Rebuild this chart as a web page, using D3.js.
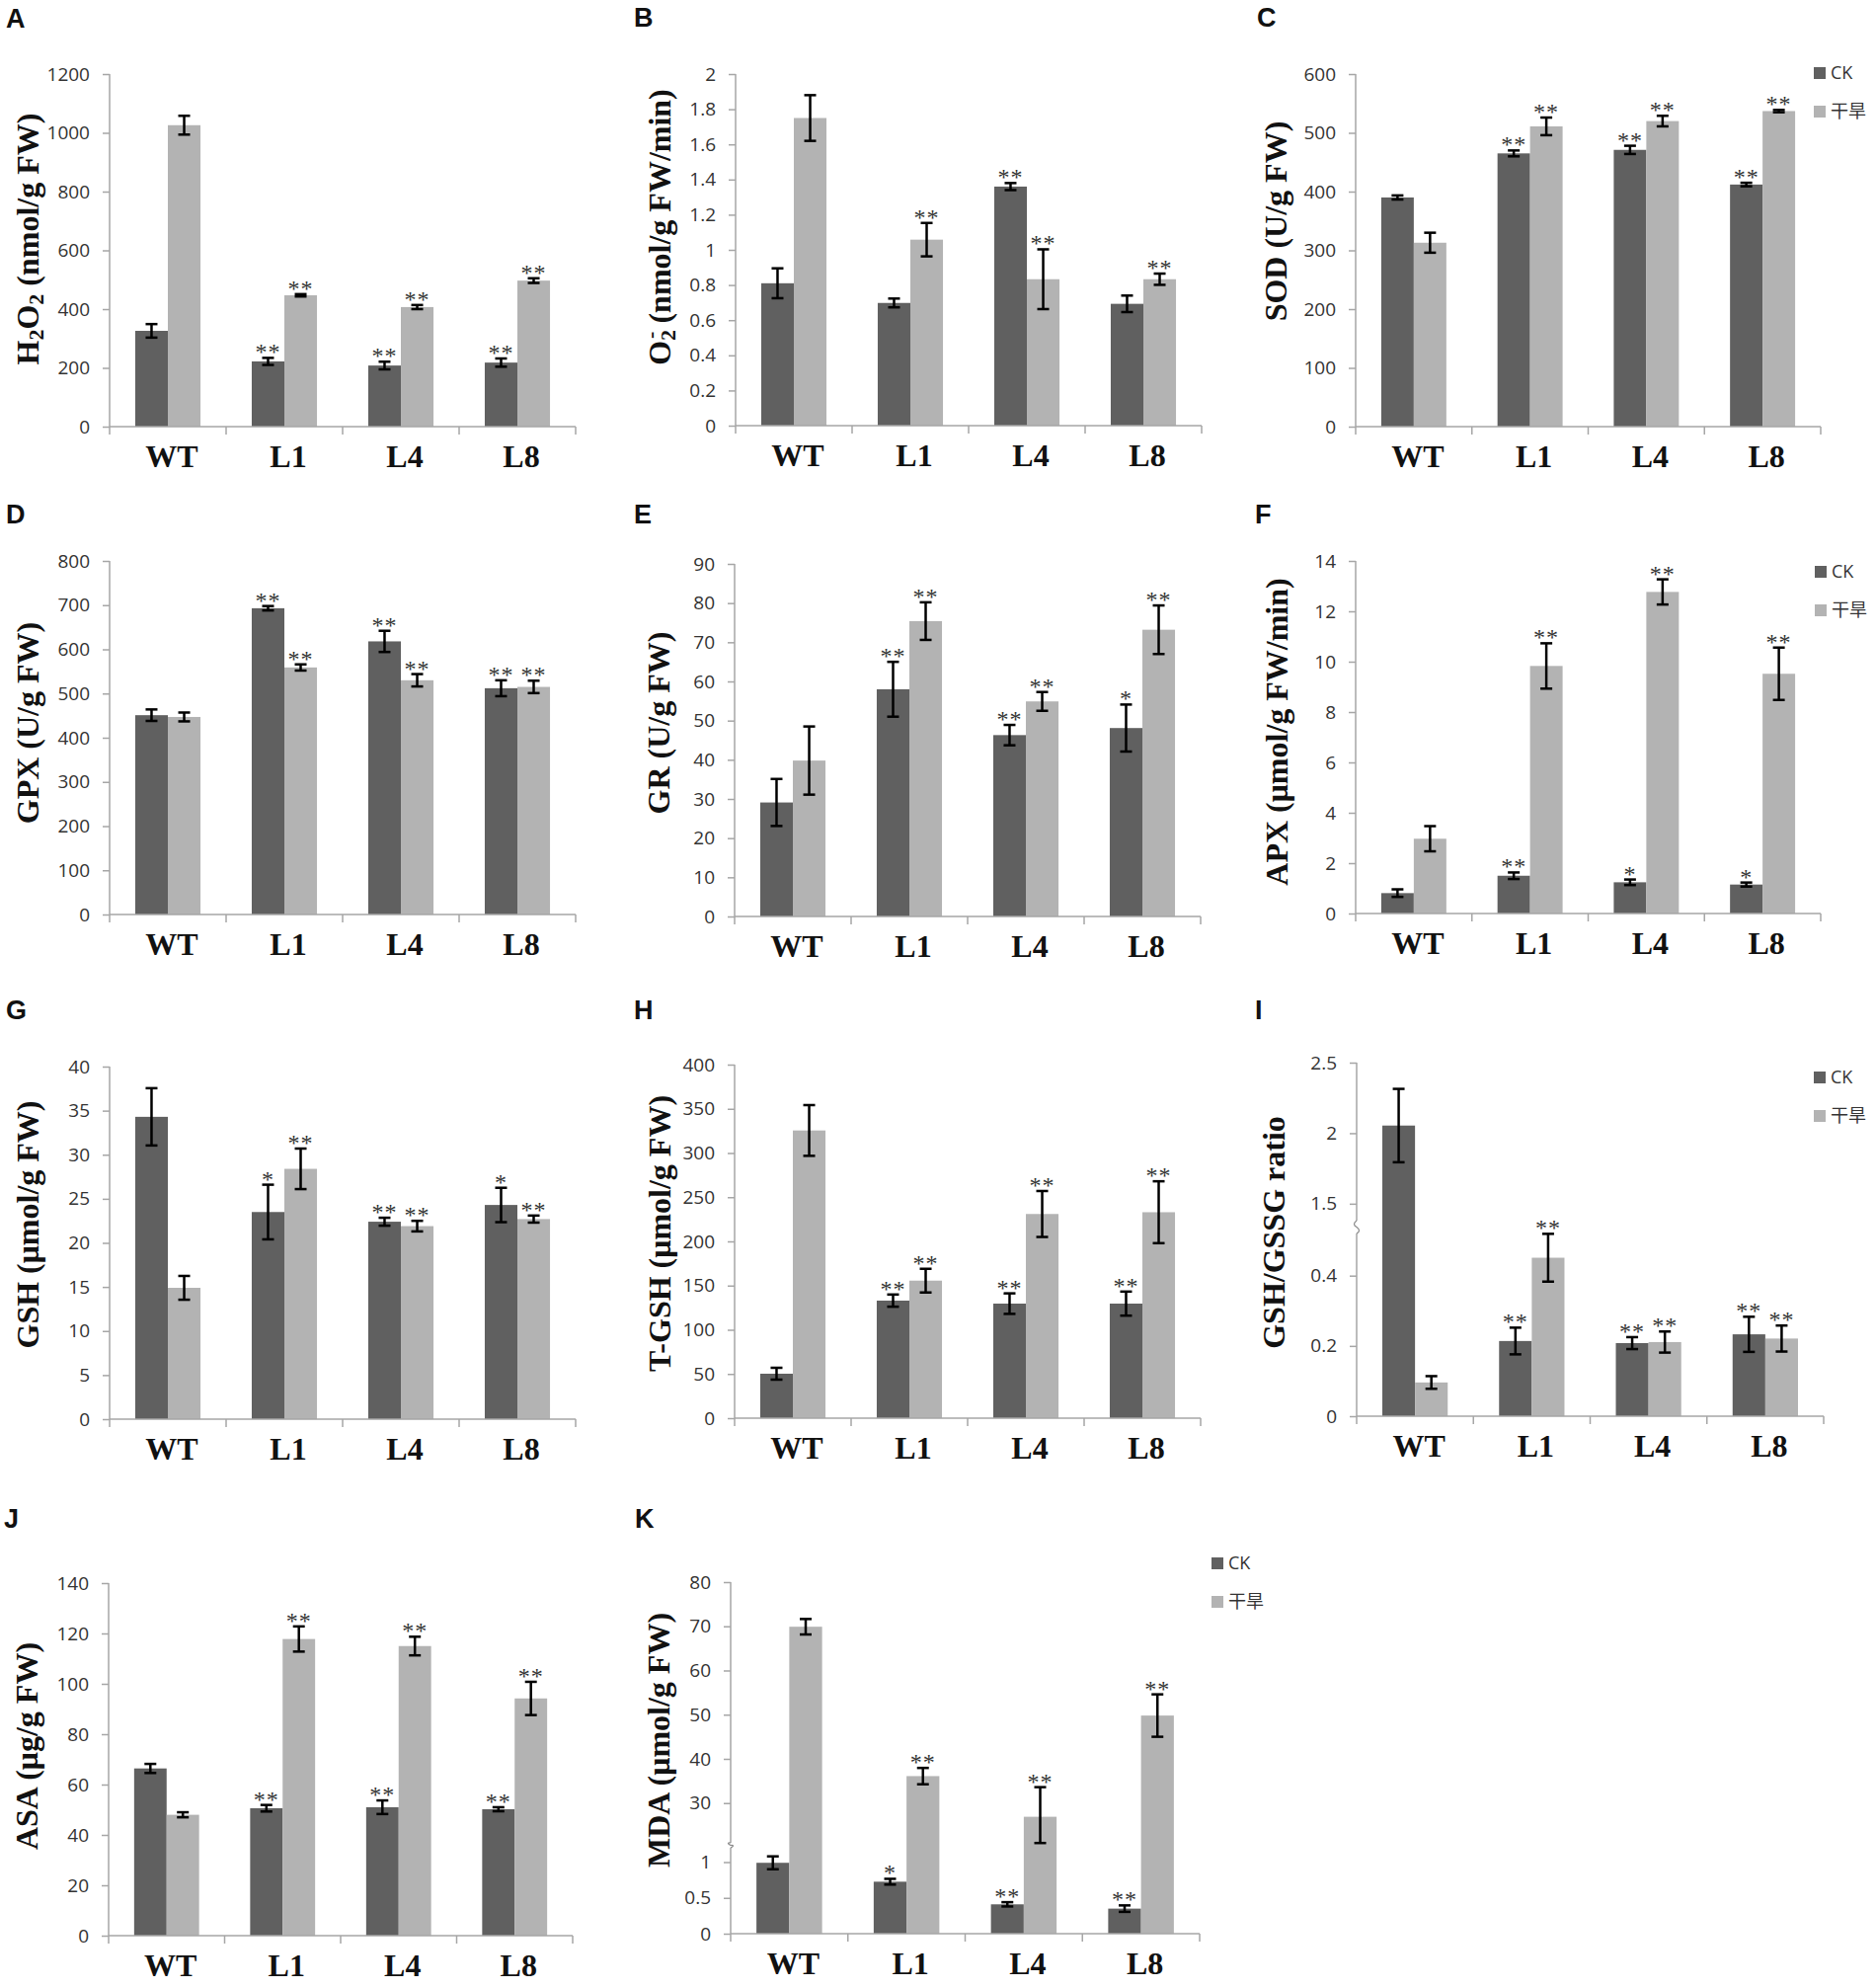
<!DOCTYPE html>
<html lang="en">
<head>
<meta charset="UTF-8">
<title>Antioxidant panels</title>
<script src="https://cdnjs.cloudflare.com/ajax/libs/d3/7.8.5/d3.min.js"></script>
<style>
  html, body { margin: 0; padding: 0; background: #fff; }
  .tick-label { font-family: "Open Sans", "Liberation Sans", sans-serif; font-size: 19px; fill: #333; }
  .cat-label { font-family: "Liberation Serif", "Times New Roman", serif; font-weight: bold; font-size: 32px; fill: #111; }
  .y-title { font-family: "Liberation Serif", "Times New Roman", serif; font-weight: bold; font-size: 32px; fill: #111; }
  .letter { font-family: "Liberation Sans", Arial, sans-serif; font-weight: bold; font-size: 27px; fill: #111; }
  .star { font-family: "Liberation Serif", "Times New Roman", serif; font-size: 24px; fill: #333; }
  .legend-text { font-family: "Open Sans", "Noto Sans CJK SC", sans-serif; font-size: 18px; fill: #333; }
</style>
</head>
<body>
<div id="chart"></div>
<script>
const categories = ["WT", "L1", "L4", "L8"];
const seriesNames = ["CK", "干旱"];

// A  H2O2
const h2o2CK = [326, 222, 208, 218];
const h2o2CKErr = [23, 12, 13, 14];
const h2o2Dr = [1026, 447, 407, 497];
const h2o2DrErr = [32, 4, 7, 8];
const h2o2SigCK = ["", "**", "**", "**"];
const h2o2SigDr = ["", "**", "**", "**"];
const h2o2Ticks = [0, 200, 400, 600, 800, 1000, 1200];

// B  O2-
const o2CK = [0.81, 0.698, 1.36, 0.693];
const o2CKErr = [0.085, 0.025, 0.02, 0.047];
const o2Dr = [1.75, 1.058, 0.833, 0.833];
const o2DrErr = [0.13, 0.095, 0.17, 0.032];
const o2SigCK = ["", "", "**", ""];
const o2SigDr = ["", "**", "**", "**"];
const o2Ticks = [0, 0.2, 0.4, 0.6, 0.8, 1, 1.2, 1.4, 1.6, 1.8, 2];

// C  SOD
const sodCK = [390, 465, 471, 412];
const sodCKErr = [3.5, 5, 7, 3];
const sodDr = [313, 511, 520, 537];
const sodDrErr = [17, 15, 9, 2];
const sodSigCK = ["", "**", "**", "**"];
const sodSigDr = ["", "**", "**", "**"];
const sodTicks = [0, 100, 200, 300, 400, 500, 600];

// D  GPX
const gpxCK = [451, 693, 618, 512];
const gpxCKErr = [13, 5, 24, 18];
const gpxDr = [447, 559, 530, 515];
const gpxDrErr = [10, 7, 14, 14];
const gpxSigCK = ["", "**", "**", "**"];
const gpxSigDr = ["", "**", "**", "**"];
const gpxTicks = [0, 100, 200, 300, 400, 500, 600, 700, 800];

// E  GR
const grCK = [29.1, 58, 46.3, 48.1];
const grCKErr = [6, 7, 2.6, 6];
const grDr = [39.8, 75.4, 54.9, 73.2];
const grDrErr = [8.7, 4.8, 2.4, 6.2];
const grSigCK = ["", "**", "**", "*"];
const grSigDr = ["", "**", "**", "**"];
const grTicks = [0, 10, 20, 30, 40, 50, 60, 70, 80, 90];

// F  APX
const apxCK = [0.81, 1.5, 1.24, 1.15];
const apxCKErr = [0.15, 0.13, 0.11, 0.08];
const apxDr = [2.97, 9.83, 12.77, 9.52];
const apxDrErr = [0.5, 0.9, 0.5, 1.04];
const apxSigCK = ["", "**", "*", "*"];
const apxSigDr = ["", "**", "**", "**"];
const apxTicks = [0, 2, 4, 6, 8, 10, 12, 14];

// G  GSH
const gshCK = [34.3, 23.5, 22.4, 24.3];
const gshCKErr = [3.25, 3.1, 0.45, 1.95];
const gshDr = [14.9, 28.4, 21.9, 22.7];
const gshDrErr = [1.35, 2.3, 0.6, 0.4];
const gshSigCK = ["", "*", "**", "*"];
const gshSigDr = ["", "**", "**", "**"];
const gshTicks = [0, 5, 10, 15, 20, 25, 30, 35, 40];

// H  T-GSH
const tgshCK = [50.3, 133, 129.6, 129.6];
const tgshCKErr = [6.7, 6.9, 11.6, 13.6];
const tgshDr = [325.5, 155.6, 231, 233];
const tgshDrErr = [28.7, 13.4, 26, 35];
const tgshSigCK = ["", "**", "**", "**"];
const tgshSigDr = ["", "**", "**", "**"];
const tgshTicks = [0, 50, 100, 150, 200, 250, 300, 350, 400];

// I  GSH/GSSG (broken axis)
const ratioCK = [2.054, 0.214, 0.208, 0.233];
const ratioCKErr = [0.26, 0.038, 0.017, 0.05];
const ratioDr = [0.096, 0.451, 0.211, 0.221];
const ratioDrErr = [0.018, 0.068, 0.03, 0.037];
const ratioSigCK = ["", "**", "**", "**"];
const ratioSigDr = ["", "**", "**", "**"];
const ratioTicks = [0, 0.2, 0.4, 1.5, 2, 2.5];
const ratioBreaks = [0, 0.52, 1.38, 2.5];

// J  ASA
const asaCK = [66.4, 50.6, 51.0, 50.2];
const asaCKErr = [1.8, 1.3, 2.7, 0.8];
const asaDr = [48.0, 117.8, 115, 94.2];
const asaDrErr = [1, 5, 3.7, 6.6];
const asaSigCK = ["", "**", "**", "**"];
const asaSigDr = ["", "**", "**", "**"];
const asaTicks = [0, 20, 40, 60, 80, 100, 120, 140];

// K  MDA (broken axis)
const mdaCK = [0.99, 0.726, 0.41, 0.35];
const mdaCKErr = [0.09, 0.04, 0.03, 0.045];
const mdaDr = [69.9, 36.1, 26.9, 49.8];
const mdaDrErr = [1.75, 1.85, 6.7, 4.8];
const mdaSigCK = ["", "*", "**", "**"];
const mdaSigDr = ["", "**", "**", "**"];
const mdaTicks = [0, 0.5, 1, 30, 40, 50, 60, 70, 80];
const mdaBreaks = [0, 1.2, 21, 80];

const panels = [
  {id: "A", title: [["H"], ["2", "sub"], ["O"], ["2", "sub"], [" (nmol/g FW)"]],
   ck: h2o2CK, ckErr: h2o2CKErr, dr: h2o2Dr, drErr: h2o2DrErr, sigCK: h2o2SigCK, sigDr: h2o2SigDr, ticks: h2o2Ticks},
  {id: "B", title: [["O"], ["2", "sub"], ["-", "sup"], [" (nmol/g FW/min)"]],
   ck: o2CK, ckErr: o2CKErr, dr: o2Dr, drErr: o2DrErr, sigCK: o2SigCK, sigDr: o2SigDr, ticks: o2Ticks},
  {id: "C", title: [["SOD (U/g FW)"]],
   ck: sodCK, ckErr: sodCKErr, dr: sodDr, drErr: sodDrErr, sigCK: sodSigCK, sigDr: sodSigDr, ticks: sodTicks, legend: true},
  {id: "D", title: [["GPX (U/g FW)"]],
   ck: gpxCK, ckErr: gpxCKErr, dr: gpxDr, drErr: gpxDrErr, sigCK: gpxSigCK, sigDr: gpxSigDr, ticks: gpxTicks},
  {id: "E", title: [["GR (U/g FW)"]],
   ck: grCK, ckErr: grCKErr, dr: grDr, drErr: grDrErr, sigCK: grSigCK, sigDr: grSigDr, ticks: grTicks},
  {id: "F", title: [["APX (μmol/g FW/min)"]],
   ck: apxCK, ckErr: apxCKErr, dr: apxDr, drErr: apxDrErr, sigCK: apxSigCK, sigDr: apxSigDr, ticks: apxTicks, legend: true},
  {id: "G", title: [["GSH (μmol/g FW)"]],
   ck: gshCK, ckErr: gshCKErr, dr: gshDr, drErr: gshDrErr, sigCK: gshSigCK, sigDr: gshSigDr, ticks: gshTicks},
  {id: "H", title: [["T-GSH (μmol/g FW)"]],
   ck: tgshCK, ckErr: tgshCKErr, dr: tgshDr, drErr: tgshDrErr, sigCK: tgshSigCK, sigDr: tgshSigDr, ticks: tgshTicks},
  {id: "I", title: [["GSH/GSSG ratio"]],
   ck: ratioCK, ckErr: ratioCKErr, dr: ratioDr, drErr: ratioDrErr, sigCK: ratioSigCK, sigDr: ratioSigDr, ticks: ratioTicks, breaks: ratioBreaks, legend: true},
  {id: "J", title: [["ASA (μg/g FW)"]],
   ck: asaCK, ckErr: asaCKErr, dr: asaDr, drErr: asaDrErr, sigCK: asaSigCK, sigDr: asaSigDr, ticks: asaTicks},
  {id: "K", title: [["MDA (μmol/g FW)"]],
   ck: mdaCK, ckErr: mdaCKErr, dr: mdaDr, drErr: mdaDrErr, sigCK: mdaSigCK, sigDr: mdaSigDr, ticks: mdaTicks, breaks: mdaBreaks, legend: true}
];

// where each panel sits on the page
const layout = {
  A: {ax: 111, right: 583, top: 75, bottom: 432, letter: [6, 28], title: [28, 242]},
  B: {ax: 745, right: 1217, top: 75, bottom: 431, letter: [642, 27], title: [668, 230]},
  C: {ax: 1373, right: 1844, top: 75, bottom: 432, letter: [1273, 27], title: [1292, 224], legend: [1837, 68]},
  D: {ax: 111, right: 583, top: 568, bottom: 926, letter: [6, 530], title: [28, 732]},
  E: {ax: 744, right: 1216, top: 571, bottom: 928, letter: [642, 530], title: [667, 732]},
  F: {ax: 1373, right: 1844, top: 568, bottom: 925, letter: [1271, 530], title: [1293, 741], legend: [1838, 573]},
  G: {ax: 111, right: 583, top: 1080, bottom: 1437, letter: [6, 1032], title: [28, 1240]},
  H: {ax: 744, right: 1216, top: 1078, bottom: 1436, letter: [642, 1032], title: [668, 1249]},
  I: {ax: 1374, right: 1847, range: [1434, 1249, 1236, 1076], letter: [1271, 1032], title: [1290, 1248], legend: [1837, 1085]},
  J: {ax: 110, right: 580, top: 1603, bottom: 1960, letter: [4, 1547], title: [27, 1768]},
  K: {ax: 740, right: 1215, range: [1958, 1871, 1866, 1602], letter: [643, 1547], title: [667, 1762], legend: [1227, 1577]}
};

const colors = {CK: "#606060", "干旱": "#b3b3b3"};
const axisColor = "#a6a6a6";

const svg = d3.select("#chart").append("svg")
  .attr("width", 1900)
  .attr("height", 2013);

panels.forEach(p => {
  const L = layout[p.id];
  const g = svg.append("g");

  const y = p.breaks
    ? d3.scaleLinear().domain(p.breaks).range(L.range)
    : d3.scaleLinear().domain([0, d3.max(p.ticks)]).range([L.bottom, L.top]);
  const yBottom = y(0), yTop = y(d3.max(p.ticks));

  const x = d3.scaleBand().domain(categories).range([L.ax, L.right]).padding(0);
  const sub = d3.scaleBand().domain(seriesNames)
    .range([x.bandwidth() * 0.22, x.bandwidth() * 0.78]).padding(0);

  // bars
  const rows = [];
  categories.forEach((c, i) => {
    rows.push({cat: c, s: "CK", v: p.ck[i], e: p.ckErr[i], sig: p.sigCK[i]});
    rows.push({cat: c, s: "干旱", v: p.dr[i], e: p.drErr[i], sig: p.sigDr[i]});
  });

  g.selectAll("rect.bar").data(rows).join("rect")
    .attr("class", "bar")
    .attr("x", d => x(d.cat) + sub(d.s))
    .attr("y", d => y(d.v))
    .attr("width", sub.bandwidth())
    .attr("height", d => yBottom - y(d.v))
    .attr("fill", d => colors[d.s]);

  // y axis
  const yAxis = d3.axisLeft(y).tickValues(p.ticks).tickSize(7).tickPadding(13)
    .tickFormat(d => String(d));
  const ya = g.append("g").attr("transform", `translate(${L.ax},0)`).call(yAxis);
  ya.select(".domain").remove();
  ya.selectAll(".tick line").attr("stroke", axisColor).attr("stroke-width", 1.5);
  ya.selectAll(".tick text").attr("class", "tick-label").attr("font-size", null).attr("font-family", null).attr("fill", null);

  if (p.breaks) {
    const gapLo = y(p.breaks[1]), gapHi = y(p.breaks[2]);
    g.append("line").attr("x1", L.ax).attr("x2", L.ax).attr("y1", yBottom).attr("y2", gapLo)
      .attr("stroke", axisColor).attr("stroke-width", 1.5);
    g.append("line").attr("x1", L.ax).attr("x2", L.ax).attr("y1", gapHi).attr("y2", yTop)
      .attr("stroke", axisColor).attr("stroke-width", 1.5);
    g.append("path")
      .attr("d", `M${L.ax},${gapLo} q5,-3 0,${(gapHi - gapLo) / 2} q-5,-3 0,${(gapHi - gapLo) / 2}`)
      .attr("fill", "none").attr("stroke", "#888").attr("stroke-width", 1.2);
  } else {
    g.append("line").attr("x1", L.ax).attr("x2", L.ax).attr("y1", yBottom).attr("y2", yTop)
      .attr("stroke", axisColor).attr("stroke-width", 1.5);
  }

  // x axis with boundary ticks
  g.append("line").attr("x1", L.ax).attr("x2", L.right).attr("y1", yBottom).attr("y2", yBottom)
    .attr("stroke", axisColor).attr("stroke-width", 1.5);
  const bounds = categories.map(c => x(c)).concat([L.right]);
  g.selectAll("line.xt").data(bounds).join("line")
    .attr("class", "xt")
    .attr("x1", d => d).attr("x2", d => d)
    .attr("y1", yBottom).attr("y2", yBottom + 8)
    .attr("stroke", axisColor).attr("stroke-width", 1.5);

  g.selectAll("text.cat-label").data(categories).join("text")
    .attr("class", "cat-label")
    .attr("x", d => x(d) + x.bandwidth() / 2 + 4)
    .attr("y", yBottom + 41)
    .attr("text-anchor", "middle")
    .text(d => d);

  // error bars
  const cap = 6;
  const eb = g.selectAll("g.err").data(rows).join("g").attr("class", "err")
    .attr("transform", d => `translate(${x(d.cat) + sub(d.s) + sub.bandwidth() / 2},0)`);
  eb.append("line").attr("x1", 0).attr("x2", 0)
    .attr("y1", d => y(d.v - d.e)).attr("y2", d => y(d.v + d.e));
  eb.append("line").attr("x1", -cap).attr("x2", cap)
    .attr("y1", d => y(d.v + d.e)).attr("y2", d => y(d.v + d.e));
  eb.append("line").attr("x1", -cap).attr("x2", cap)
    .attr("y1", d => y(d.v - d.e)).attr("y2", d => y(d.v - d.e));
  eb.selectAll("line").attr("stroke", "#000").attr("stroke-width", 2.5);

  // significance marks
  g.selectAll("text.star").data(rows.filter(d => d.sig)).join("text")
    .attr("class", "star")
    .attr("x", d => x(d.cat) + sub(d.s) + sub.bandwidth() / 2)
    .attr("y", d => y(d.v + d.e) + 2)
    .attr("text-anchor", "middle")
    .attr("letter-spacing", 1)
    .text(d => d.sig);

  // y title
  const t = g.append("text").attr("class", "y-title")
    .attr("transform", `translate(${L.title[0]},${L.title[1]}) rotate(-90)`)
    .attr("text-anchor", "middle")
    .attr("y", 11);
  let shift = 0;
  p.title.forEach(([txt, kind]) => {
    const ts = t.append("tspan").text(txt);
    if (kind === "sub") {
      ts.attr("font-size", 22).attr("dy", 5 - shift);
      shift = 5;
    } else if (kind === "sup") {
      ts.attr("font-size", 22).attr("dy", -13 - shift).attr("dx", -9);
      shift = -13;
    } else {
      ts.attr("dy", -shift);
      shift = 0;
    }
  });

  // panel letter
  g.append("text").attr("class", "letter")
    .attr("x", L.letter[0]).attr("y", L.letter[1]).text(p.id);

  // legend
  if (p.legend) {
    const lg = g.append("g").attr("transform", `translate(${L.legend[0]},${L.legend[1]})`);
    const item = lg.selectAll("g").data(seriesNames).join("g")
      .attr("transform", (d, i) => `translate(0,${i * 39})`);
    item.append("rect").attr("width", 12).attr("height", 12).attr("fill", d => colors[d]);
    item.append("text").attr("class", "legend-text").attr("x", 17).attr("y", 12).text(d => d);
  }
});
</script>
</body>
</html>
